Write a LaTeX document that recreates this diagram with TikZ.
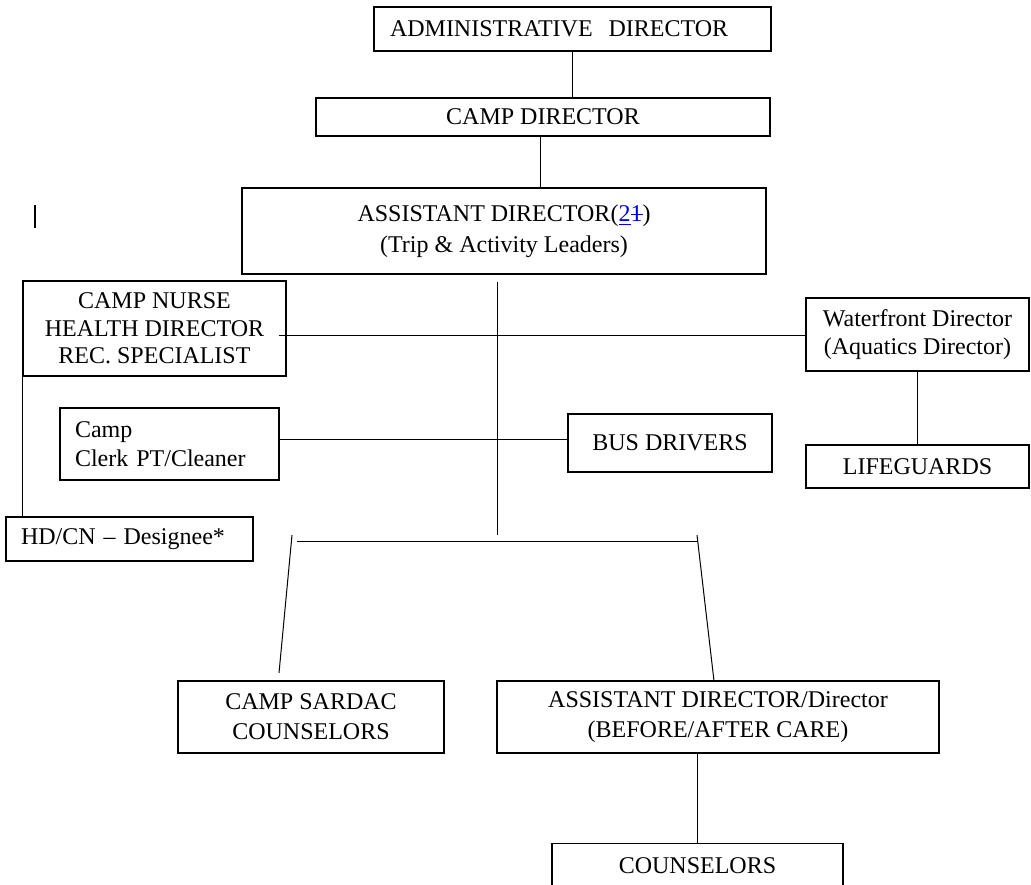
\documentclass[tikz,border=0pt]{standalone}
\usepackage{fontspec}
\setmainfont{Liberation Serif}
\usepackage{xcolor}
\usetikzlibrary{calc}
\definecolor{revblue}{RGB}{0,0,230}
\newcommand{\revins}[1]{\textcolor{revblue}{\underline{#1}}}
\newcommand{\revdel}[1]{\textcolor{revblue}{\rlap{\rule[0.28em]{0.5em}{0.06em}}#1}}
\begin{document}
\begin{tikzpicture}[x=0.5pt,y=-0.5pt,
  box/.style={draw, line width=0.6pt, inner sep=0pt, align=center,
    font=\fontsize{12}{13.75}\selectfont},
  lbox/.style={draw, line width=0.6pt, inner ysep=0pt, inner xsep=7.5pt, align=left,
    font=\fontsize{12}{14.5}\selectfont},
  conn/.style={line width=0.5pt}]
\useasboundingbox (0,0) rectangle (1031,884);
\clip (0,0) rectangle (1031,884);

\node[lbox, text width=182.5pt, inner xsep=8pt, minimum height=22pt] (adm) at (572.5,29) {ADMINISTRATIVE\hspace{8pt}DIRECTOR};
\node[box, minimum width=227pt, minimum height=19pt] (camp) at (543,117) {CAMP DIRECTOR};
\node[box, minimum width=262pt, minimum height=43pt, font=\fontsize{12}{15.5}\selectfont] (asst) at (504,231) {\rule{0pt}{9pt}ASSISTANT DIRECTOR(\revins{2}\revdel{1})\\(Trip \& Activity Leaders)};
\node[box, minimum width=131.5pt, minimum height=47.5pt] (nurse) at (154.5,328.5) {CAMP NURSE\\HEALTH DIRECTOR\\REC. SPECIALIST};
\node[box, minimum width=111.5pt, minimum height=36.5pt] (water) at (917.5,334.5) {Waterfront Director\\(Aquatics Director)};
\node[box, minimum width=111.5pt, minimum height=21.5pt] (life) at (917.5,466.5) {LIFEGUARDS};
\node[box, minimum width=102pt, minimum height=29pt] (bus) at (670,443) {BUS DRIVERS};
\node[lbox, text width=94.5pt, minimum height=36pt] (clerk) at (169.5,444) {Camp\\Clerk PT/Cleaner};
\node[lbox, text width=108.5pt, minimum height=22pt] (hdcn) at (129.5,539) {HD/CN -- Designee*};
\node[box, minimum width=133pt, minimum height=36pt, font=\fontsize{12}{15}\selectfont] (sardac) at (311,717) {CAMP SARDAC\\COUNSELORS};
\node[box, minimum width=221pt, minimum height=36pt, font=\fontsize{12}{15}\selectfont] (bac) at (718,717) {ASSISTANT DIRECTOR/Director\\(BEFORE/AFTER CARE)};
\node[box, minimum width=145.5pt, minimum height=22pt, anchor=north] (couns) at (697.5,843) {COUNSELORS};

% stray cursor mark
\coordinate (cur1) at (35,205);
\coordinate (cur2) at (35,228);
\draw[line width=0.7pt] (cur1) -- (cur2);

% connectors
\draw[conn] (adm.south) -- (adm.south |- camp.north);
\coordinate (cx) at (540,0);
\draw[conn] (camp.south -| cx) -- (asst.north -| cx);

\coordinate (spT) at (497,282);
\coordinate (spB) at (497,535);
\draw[conn] (spT) -- (spB);

\coordinate (nl) at (279,335);
\draw[conn] (nl) -- (nl -| water.west);
\draw[conn] (water.south) -- (life.north);

\coordinate (cl) at (0,439);
\draw[conn] (clerk.east |- cl) -- (bus.west |- cl);

\draw[conn] (nurse.south west) -- (nurse.south west |- hdcn.north);

\coordinate (brL) at (297,541);
\coordinate (brR) at (698,541);
\draw[conn] (brL) -- (brR);
\coordinate (lt) at (292,535);
\coordinate (lb) at (279,673);
\draw[conn] (lt) -- (lb);
\coordinate (rt) at (697,535);
\coordinate (rb) at (714,681);
\draw[conn] (rt) -- (rb);

\coordinate (cb) at (697,0);
\draw[conn] (bac.south -| cb) -- (couns.north -| cb);
\end{tikzpicture}
\end{document}
